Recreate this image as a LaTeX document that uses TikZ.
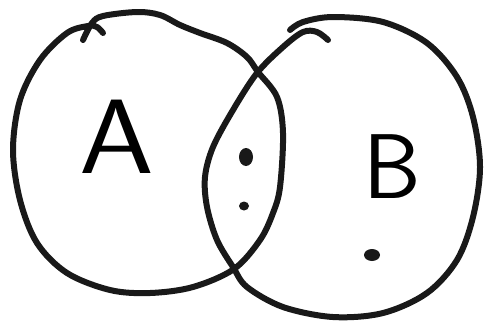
\documentclass[tikz,border=0pt]{standalone}
\usepackage{fontspec}
\usepackage{tikz}
\usetikzlibrary{positioning}

\begin{document}
\begin{tikzpicture}[
    x=1pt, y=-1pt,
    pen/.style={draw=black!90, line width=6pt, line cap=round, line join=round},
    dotmark/.style={fill=black!90},
    setname/.style={font=\sffamily\fontsize{92}{92}\selectfont, inner sep=0pt}
]
    \useasboundingbox (0,0) rectangle (486,325);
    % set A
    \draw[pen] plot[smooth, tension=0.55] coordinates {
        (83,40) (92,23) (103,16) (137,12) (160,15) (180,25) (200,33) (227,43)
        (247,57) (258,72) (277,97) (283,133) (280,187) (273,213) (260,240)
        (234,269) (193,287) (150,293) (110,290) (67,273) (37,243) (20,200)
        (13,150) (20,100) (40,60) (67,33) (88,26) (97,27) (103,33)};
    % set B
    \draw[pen] plot[smooth, tension=0.55] coordinates {
        (290,30) (303,22) (333,17) (383,22) (427,43) (457,77) (473,117)
        (480,167) (473,217) (457,260) (427,293) (383,313) (333,317) (283,307)
        (247,287) (233,267) (217,240) (207,207) (205,177) (213,147) (233,110)
        (257,73) (283,47) (303,32) (317,32) (328,40)};
    \node[setname, xscale=1.3, yscale=1.15] (a) at (117,137) {A};
    \node[setname] (b) at (392,167) {B};
    % elements
    \fill[dotmark] (246,157) ellipse (7pt and 9pt);
    \fill[dotmark] (244,206) ellipse (5pt and 4.5pt);
    \fill[dotmark] (372,255) ellipse (8pt and 6pt);
\end{tikzpicture}
\end{document}
